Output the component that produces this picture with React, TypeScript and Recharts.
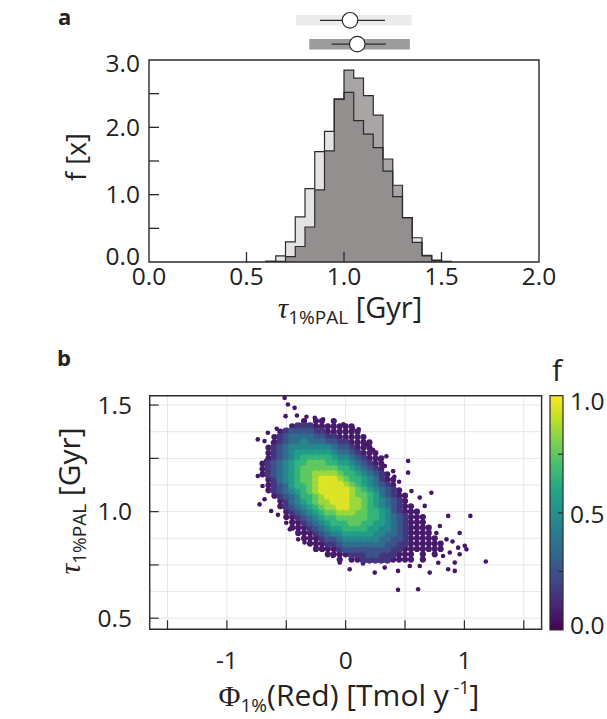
import React from "react";
import {
  ComposedChart,
  Area,
  Line,
  Scatter,
  XAxis,
  YAxis,
  CartesianGrid,
  ReferenceArea,
  ReferenceLine,
} from "recharts";

const FONT = '"Open Sans", "Noto Sans", sans-serif';
const SERIF = '"Liberation Serif", "DejaVu Serif", serif';
const INK = "#2b2b2b";
const TICK_FS = 24.5;

// ---------- panel a: histograms ----------
const binStarts = [0.6, 0.65, 0.7, 0.75, 0.8, 0.85, 0.9, 0.95, 1.0, 1.05, 1.1, 1.15, 1.2, 1.25, 1.3, 1.35, 1.4, 1.45, 1.5];
const BIN_W = 0.05;
const lightHist = [0.01, 0.09, 0.3, 0.67, 1.09, 1.64, 1.94, 2.42, 2.52, 2.1, 1.9, 1.7, 1.35, 0.97, 0.66, 0.36, 0.09, 0.03, 0.0];
const darkHist = [0.01, 0.01, 0.08, 0.23, 0.52, 1.07, 1.65, 2.42, 2.85, 2.73, 2.47, 2.18, 1.53, 1.14, 0.66, 0.29, 0.1, 0.02, 0.01];

const histXTicks = [0, 0.5, 1, 1.5, 2];
const histYTicks = [0, 0.5, 1, 1.5, 2, 2.5, 3];

// summary bars above panel a (row 0 = light run, row 1 = dark run)
const boxRow = [0, 1];
const boxBarLo = [0.754, 0.822];
const boxBarHi = [1.347, 1.338];
const boxLo = [0.877, 0.937];
const boxHi = [1.21, 1.215];
const boxMed = [1.031, 1.068];
const boxFill = ["#ebebeb", "#9c9c9c"];

// ---------- panel b: density scatter ----------
// density grid: one string per row, one char per 0.05 in x,
// '.' = no point, digit d = point with f ~ (d + 0.5) / 10
const densityY = [1.425, 1.4, 1.375, 1.35, 1.325, 1.3, 1.275, 1.25, 1.225, 1.2, 1.175, 1.15, 1.125, 1.1, 1.075, 1.05, 1.025, 1.0, 0.975, 0.95, 0.925, 0.9, 0.875, 0.85, 0.825, 0.8, 0.775];
const densityX0 = [-0.35, -0.45, -0.55, -0.6, -0.6, -0.65, -0.65, -0.65, -0.7, -0.7, -0.7, -0.65, -0.65, -0.65, -0.6, -0.55, -0.55, -0.5, -0.5, -0.45, -0.45, -0.4, -0.35, -0.3, -0.25, -0.15, -0.05];
const densityCells = [
  "0.00.0.",
  "01110000000",
  "01222211000000",
  "0123333221100000",
  "01233433322110000",
  "012344444443221000",
  "0123455555543321000",
  "01234566666544321000",
  "012345667776655432100",
  "012345677777766543210",
  "0123456778888766543210",
  "0134567789998766543100",
  "0123566789999876543210",
  "01234567899999876543210",
  "01234667899998776532100",
  "0134567889998876543210",
  "01234567889988765432100",
  "01234567788877665421000",
  "001234566777776654321000",
  "00123456667766554321000",
  "000123455666655443210000",
  "00012344555554433210000",
  "00012234444443322100000",
  "00011233333332211000000",
  "0000122222222110000000",
  "000011122111000.0.0",
  "0.00111110000.0.",
];
const CELL_W = 0.05;

// isolated low-density points around the cloud
const outlierX = [-0.514, -0.486, -0.43, -0.506, -0.41, -0.33, -0.26, -0.19, -0.02, 0.062, 0.11, -0.58, -0.655, -0.74, -0.683, -0.613, 0.174, 0.23, 0.287, 0.343, 0.33, 0.4, 0.41, 0.526, 0.526, 0.45, 0.554, 0.624, 0.722, 0.666, -0.67, -0.74, -0.7, -0.725, -0.683, -0.627, -0.57, -0.5, -0.47, -0.4, -0.346, -0.247, -0.19, -0.107, -0.05, 0.034, 0.146, 0.245, 0.329, 0.441, 0.54, 0.624, 0.708, 0.863, 0.919, 0.919, 0.82, 0.877, 0.947, 1.003, 1.017, 0.96, 0.863, 1.05, 0.793, 0.849, 0.764, 0.9, 0.78, 0.96, 0.441, 0.61, 1.18];
const outlierY = [1.534, 1.503, 1.487, 1.448, 1.451, 1.445, 1.44, 1.433, 1.41, 1.389, 1.386, 1.389, 1.37, 1.339, 1.331, 1.323, 1.315, 1.29, 1.245, 1.26, 1.214, 1.19, 1.164, 1.2375, 1.183, 1.14, 1.097, 1.066, 1.089, 1.027, 1.237, 1.167, 1.12, 1.034, 1.058, 1.003, 0.985, 0.948, 0.917, 0.87, 0.855, 0.839, 0.823, 0.792, 0.761, 0.73, 0.757, 0.714, 0.7375, 0.722, 0.745, 0.745, 0.714, 0.73, 0.722, 0.761, 0.792, 0.808, 0.831, 0.84, 0.823, 0.9, 0.98, 0.98, 0.933, 0.87, 0.9, 0.86, 0.76, 0.8, 0.633, 0.636, 0.766];
const OUTLIER_F = 0.06;

const scatterXTicks = [-1.5, -1, -0.5, 0, 0.5, 1, 1.5];
const scatterYTicks = [0.5, 0.75, 1, 1.25, 1.5];
const gridXVals = [-1.5, -1, -0.5, 0, 0.5, 1, 1.5];
const gridYVals = [0.5, 0.625, 0.75, 0.875, 1, 1.125, 1.25, 1.375, 1.5];
const cbarTicks = [0, 0.25, 0.5, 0.75, 1];

const viridisStops = ["#440154", "#482475", "#414487", "#355f8d", "#2a788e", "#21918c", "#22a884", "#44bf70", "#7ad151", "#bddf26", "#fde725"];

function hexToRgb(h: string) {
  const n = parseInt(h.slice(1), 16);
  return [(n >> 16) & 255, (n >> 8) & 255, n & 255];
}

function viridis(t: number) {
  const s = Math.max(0, Math.min(1, t)) * 10;
  const i = Math.min(9, Math.floor(s));
  const u = s - i;
  const a = hexToRgb(viridisStops[i]);
  const b = hexToRgb(viridisStops[i + 1]);
  const c = a.map((v, k) => Math.round(v + (b[k] - v) * u));
  return `rgb(${c[0]},${c[1]},${c[2]})`;
}

// tables for recharts
const last = binStarts.length - 1;
const histData = [
  { x: binStarts[0], light: 0, dark: 0, both: 0 },
  ...binStarts.map((x, i) => ({
    x,
    light: lightHist[i],
    dark: darkHist[i],
    both: Math.min(lightHist[i], darkHist[i]),
  })),
  { x: binStarts[last] + BIN_W, light: 0, dark: 0, both: 0 },
];

const medianData = boxRow.map((r, i) => ({ x: boxMed[i], y: r }));

const scatterPoints: { x: number; y: number; f: number; r: number }[] = [];
densityCells.forEach((row, i) => {
  for (let j = 0; j < row.length; j++) {
    const ch = row[j];
    if (ch === ".") continue;
    const d = Number(ch);
    scatterPoints.push({
      x: densityX0[i] + j * CELL_W,
      y: densityY[i],
      f: d === 0 ? 0.07 : (d + 0.5) / 10,
      r: d === 0 ? 3.1 : 4.1,
    });
  }
});
outlierX.forEach((x, i) => scatterPoints.push({ x, y: outlierY[i], f: OUTLIER_F, r: 2.3 }));
scatterPoints.sort((a, b) => a.f - b.f);

// ---------- tick renderers (inward ticks) ----------
const TopXTick = (p: any) => {
  const v = p.payload.value;
  return (
    <g>
      {v > 0 && v < 2 && <line x1={p.x} x2={p.x} y1={262} y2={252} stroke={INK} strokeWidth={1.3} />}
      <text x={p.x} y={285} textAnchor="middle" fontFamily={FONT} fontSize={TICK_FS} fill="#222">
        {v.toFixed(1)}
      </text>
    </g>
  );
};

const TopYTick = (p: any) => {
  const v = p.payload.value;
  const nudge = v === 3 ? 3 : v === 0 ? -6 : 0;
  return (
    <g>
      {v > 0 && v < 3 && <line x1={149} x2={159} y1={p.y} y2={p.y} stroke={INK} strokeWidth={1.3} />}
      {Number.isInteger(v) && (
        <text x={140} y={p.y + 8.5 + nudge} textAnchor="end" fontFamily={FONT} fontSize={TICK_FS} fill="#222">
          {v.toFixed(1)}
        </text>
      )}
    </g>
  );
};

const BotXTick = (p: any) => {
  const v = p.payload.value;
  return (
    <g>
      <line x1={p.x} x2={p.x} y1={299.3} y2={290.3} stroke={INK} strokeWidth={1.2} />
      {Number.isInteger(v) && (
        <text x={p.x} y={338.5} textAnchor="middle" fontFamily={FONT} fontSize={TICK_FS} fill="#222">
          {String(v)}
        </text>
      )}
    </g>
  );
};

const BotYTick = (p: any) => {
  const v = p.payload.value;
  return (
    <g>
      <line x1={149.7} x2={158.7} y1={p.y} y2={p.y} stroke={INK} strokeWidth={1.2} />
      {Math.abs(v * 2 - Math.round(v * 2)) < 1e-6 && (
        <text x={132} y={p.y + 8.5} textAnchor="end" fontFamily={FONT} fontSize={TICK_FS} fill="#222">
          {v.toFixed(1)}
        </text>
      )}
    </g>
  );
};

const CbarTick = (p: any) => {
  const v = p.payload.value;
  const nudge = v === 1 ? 6 : v === 0 ? -5 : 2;
  return (
    <g>
      {v > 0 && v < 1 && <line x1={563} x2={558} y1={p.y} y2={p.y} stroke={INK} strokeWidth={1.2} />}
      {(v === 0 || v === 0.5 || v === 1) && (
        <text x={570} y={p.y + 8.5 + nudge} textAnchor="start" fontFamily={FONT} fontSize={TICK_FS} fill="#222">
          {v.toFixed(1)}
        </text>
      )}
    </g>
  );
};

const MedianDot = (p: any) => (
  <circle cx={p.cx} cy={p.cy} r={7.8} fill="#fff" stroke={INK} strokeWidth={1.2} />
);

const DensityDot = (p: any) => (
  <circle cx={p.cx} cy={p.cy} r={p.payload.r} fill={viridis(p.payload.f)} />
);

const abs = (left: number, top: number): React.CSSProperties => ({ position: "absolute", left, top });

export default function App() {
  return (
    <div style={{ position: "absolute", left: 0, top: 0, width: 607, height: 719, background: "#fff", overflow: "hidden" }}>
      {/* summary bars above panel a */}
      <div style={abs(0, 0)}>
        <ComposedChart width={607} height={58} data={medianData} margin={{ top: 0, right: 68, bottom: 0, left: 149 }}>
          <XAxis type="number" dataKey="x" domain={[0, 2]} hide allowDataOverflow />
          <YAxis type="number" dataKey="y" domain={[-0.85, 1.58]} reversed hide allowDataOverflow />
          {boxRow.map((r, i) => (
            <ReferenceArea key={`bar${i}`} x1={boxBarLo[i]} x2={boxBarHi[i]} y1={r - 0.22} y2={r + 0.22} fill={boxFill[i]} fillOpacity={1} stroke="none" />
          ))}
          {boxRow.map((r, i) => (
            <ReferenceLine key={`wh${i}`} segment={[{ x: boxLo[i], y: r }, { x: boxHi[i], y: r }]} stroke={INK} strokeWidth={1.3} />
          ))}
          <Scatter data={medianData} shape={MedianDot} isAnimationActive={false} />
        </ComposedChart>
      </div>

      {/* panel a */}
      <div style={abs(0, 0)}>
        <ComposedChart width={607} height={330} data={histData} margin={{ top: 60, right: 68, bottom: 0, left: 0 }}>
          <XAxis type="number" dataKey="x" domain={[0, 2]} ticks={histXTicks} interval={0} height={68} axisLine={false} tickLine={false} tick={TopXTick} allowDataOverflow />
          <YAxis type="number" domain={[0, 3]} ticks={histYTicks} interval={0} width={149} axisLine={false} tickLine={false} tick={TopYTick} allowDataOverflow />
          <Area type="stepAfter" dataKey="dark" fill="#a9a5a5" fillOpacity={1} stroke="none" isAnimationActive={false} />
          <Area type="stepAfter" dataKey="light" fill="#e3e3e3" fillOpacity={1} stroke="none" isAnimationActive={false} />
          <Area type="stepAfter" dataKey="both" fill="#938f8f" fillOpacity={1} stroke="none" isAnimationActive={false} />
          <Line type="stepAfter" dataKey="light" stroke={INK} strokeWidth={1.2} dot={false} isAnimationActive={false} />
          <Line type="stepAfter" dataKey="dark" stroke={INK} strokeWidth={1.2} dot={false} isAnimationActive={false} />
          <ReferenceArea x1={0} x2={2} y1={0} y2={3} fill="none" stroke={INK} strokeWidth={1.4} />
        </ComposedChart>
      </div>

      {/* panel b */}
      <div style={abs(0, 330)}>
        <ComposedChart width={607} height={389} margin={{ top: 65.7, right: 65.4, bottom: 0, left: 0 }}>
          <CartesianGrid stroke="#e6e6e6" strokeWidth={1} horizontalValues={gridYVals} verticalValues={gridXVals} />
          <XAxis type="number" dataKey="x" domain={[-1.65, 1.65]} ticks={scatterXTicks} interval={0} height={89.7} axisLine={false} tickLine={false} tick={BotXTick} allowDataOverflow />
          <YAxis type="number" dataKey="y" domain={[0.448, 1.544]} ticks={scatterYTicks} interval={0} width={149.7} axisLine={false} tickLine={false} tick={BotYTick} allowDataOverflow />
          <Scatter data={scatterPoints} shape={DensityDot} isAnimationActive={false} />
          <ReferenceArea x1={-1.65} x2={1.65} y1={0.448} y2={1.544} fill="none" stroke={INK} strokeWidth={1.4} />
        </ComposedChart>
      </div>

      {/* colour bar */}
      <div style={abs(0, 330)}>
        <ComposedChart width={607} height={389} data={cbarTicks.map((v) => ({ x: 0.5, y: v }))} margin={{ top: 65.7, right: 0, bottom: 89, left: 550 }}>
          <defs>
            <linearGradient id="viridisBar" x1="0" y1="1" x2="0" y2="0">
              {viridisStops.map((c, i) => (
                <stop key={c} offset={`${i * 10}%`} stopColor={c} />
              ))}
            </linearGradient>
          </defs>
          <XAxis type="number" dataKey="x" domain={[0, 1]} hide />
          <YAxis orientation="right" type="number" dataKey="y" domain={[0, 1]} ticks={cbarTicks} interval={0} width={44} axisLine={false} tickLine={false} tick={CbarTick} />
          <ReferenceArea x1={0} x2={1} y1={0} y2={1} fill="url(#viridisBar)" fillOpacity={1} stroke={INK} strokeWidth={1.2} />
        </ComposedChart>
      </div>

      {/* titles and panel letters */}
      <svg width={607} height={719} style={{ position: "absolute", left: 0, top: 0, pointerEvents: "none" }} fontFamily={FONT} fill="#222">
        <text x={58} y={25} fontSize={22} fontWeight="bold">a</text>
        <text x={57} y={366} fontSize={22} fontWeight="bold">b</text>
        <text transform="translate(86,157) rotate(-90)" textAnchor="middle" fontSize={27}>f [x]</text>
        <text x={350} y={318} textAnchor="middle" fontSize={29}>
          <tspan fontFamily={SERIF} fontStyle="italic">τ</tspan>
          <tspan fontSize={19} dy={6}>1%PAL</tspan>
          <tspan dy={-6}>{" [Gyr]"}</tspan>
        </text>
        <text transform="translate(80,501) rotate(-90)" textAnchor="middle" fontSize={30}>
          <tspan fontFamily={SERIF} fontStyle="italic">τ</tspan>
          <tspan fontSize={19} dy={6}>1%PAL</tspan>
          <tspan dy={-6}>{" [Gyr]"}</tspan>
        </text>
        <text x={349} y={706} textAnchor="middle" fontSize={30}>
          <tspan fontFamily={SERIF}>Φ</tspan>
          <tspan fontSize={19} dy={6}>1%</tspan>
          <tspan dy={-6}>(Red) [Tmol y</tspan>
          <tspan fontSize={18} dy={-12}>{" -1"}</tspan>
          <tspan dy={12}>]</tspan>
        </text>
        <text x={557} y={381} textAnchor="middle" fontSize={30}>f</text>
      </svg>
    </div>
  );
}
